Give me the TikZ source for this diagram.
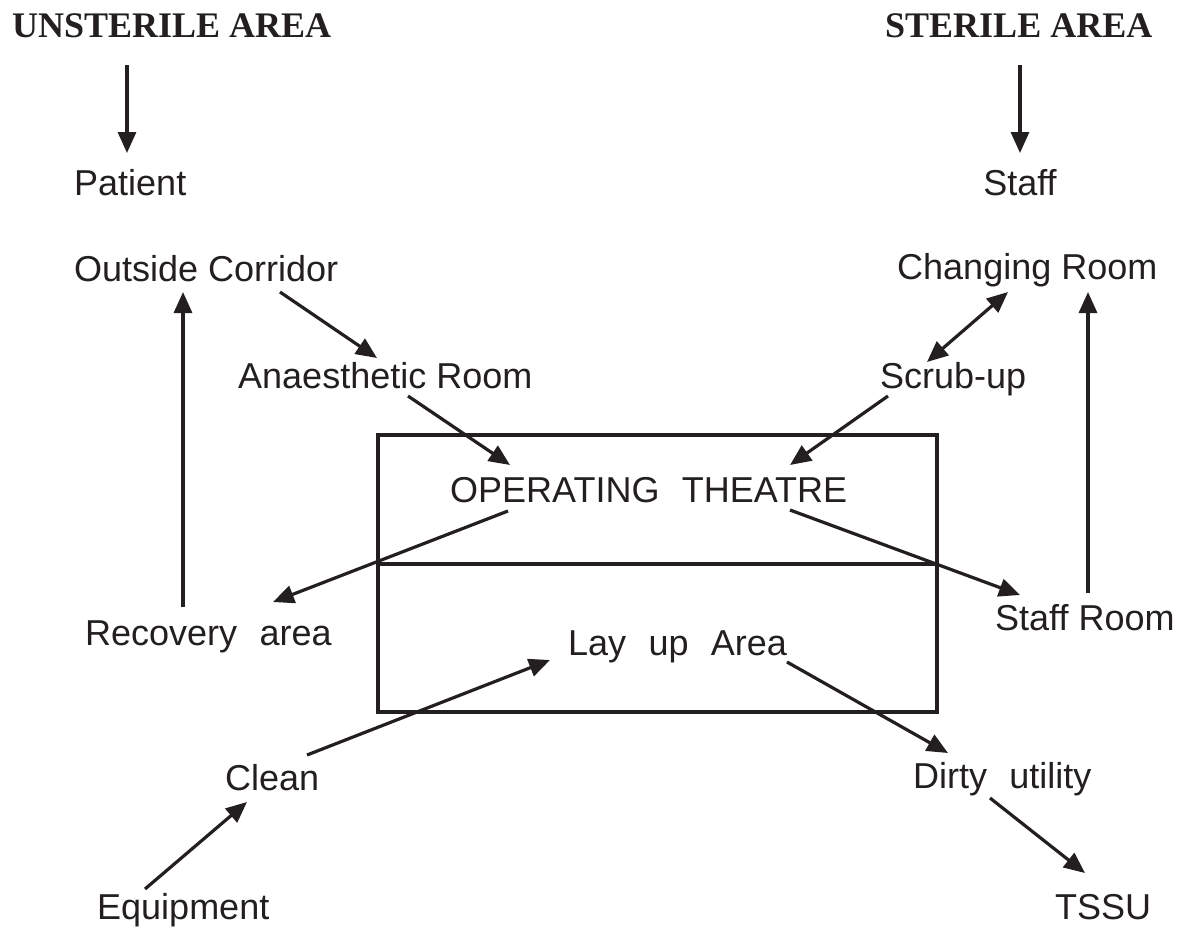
\documentclass[tikz,border=0pt]{standalone}
\usepackage{fontspec}
\setmainfont{Liberation Sans}
\newfontfamily\titlefont{Liberation Serif}
\usetikzlibrary{arrows.meta,calc}
\definecolor{ink}{RGB}{35,31,32}
\begin{document}
\begin{tikzpicture}[x=1pt,y=-1pt,
  lbl/.style={inner sep=0pt,anchor=base west,text=ink,font=\fontsize{36}{40}\selectfont},
  ttl/.style={inner sep=0pt,anchor=base west,text=ink,font=\titlefont\bfseries\fontsize{36}{40}\selectfont},
  arr/.style={draw=ink,line width=3.2pt,-{Triangle[length=21pt,width=18pt]}},
  darr/.style={draw=ink,line width=3.2pt,{Triangle[length=21pt,width=18pt]}-{Triangle[length=21pt,width=18pt]}},
  boxline/.style={draw=ink,line width=3.2pt}]
\useasboundingbox (0,0) rectangle (1181,929);
\def\sp{\hspace{0.62em}}
% titles
\node[ttl] (unt) at (12,37) {UNSTERILE AREA};
\node[ttl] (st) at (885,37) {STERILE AREA};
% labels
\node[lbl] (pat) at (74,195) {Patient};
\node[lbl,anchor=base] (staff) at (1020,195) {Staff};
\node[lbl] (oc) at (74,281) {Outside Corridor};
\node[lbl] (cr) at (897,279) {Changing Room};
\node[lbl] (an) at (238,388) {Anaesthetic Room};
\node[lbl] (su) at (880,388) {Scrub-up};
\node[lbl] (ot) at (450,502) {OPERATING\sp THEATRE};
\node[lbl] (rec) at (85,645) {Recovery\sp area};
\node[lbl] (sr) at (995,630) {Staff Room};
\node[lbl] (lay) at (568,655) {Lay\sp up\sp Area};
\node[lbl] (cl) at (225,790) {Clean};
\node[lbl] (du) at (913,788) {Dirty\sp utility};
\node[lbl] (eq) at (97,919) {Equipment};
\node[lbl] (ts) at (1055,919) {TSSU};
% theatre box
\draw[boxline] (378,435) rectangle (937,712);
\draw[boxline] (378,564) -- (937,564);
% connectors
\draw[arr] ($(unt.base west)+(115,28)$) -- ($(pat.base west)+(53,-42)$);
\draw[arr] ($(st.base west)+(135,28)$) -- ($(staff.base)+(0,-42)$);
\draw[arr] ($(oc.base west)+(206,11)$) -- ($(an.base west)+(139,-30)$);
\draw[darr] ($(cr.base west)+(111,13)$) -- ($(su.base west)+(47,-26)$);
\draw[arr] ($(an.base west)+(170,8)$) -- ($(ot.base west)+(60,-37)$);
\draw[arr] ($(su.base west)+(8,8)$) -- ($(ot.base west)+(340,-37)$);
\draw[arr] ($(ot.base west)+(58,9)$) -- ($(rec.base west)+(188,-43)$);
\draw[arr] ($(ot.base west)+(340,8)$) -- ($(sr.base west)+(25,-35)$);
\draw[arr] ($(rec.base west)+(98,-38)$) -- ($(oc.base west)+(109,11)$);
\draw[arr] ($(sr.base west)+(93,-37)$) -- ($(cr.base west)+(191,13)$);
\draw[arr] ($(cl.base west)+(82,-35)$) -- ($(lay.base west)+(-18,5)$);
\draw[arr] ($(lay.base west)+(219,7)$) -- ($(du.base west)+(35,-35)$);
\draw[arr] ($(eq.base west)+(48,-30)$) -- ($(cl.base west)+(22,12)$);
\draw[arr] ($(du.base west)+(77,10)$) -- ($(ts.base west)+(30,-46)$);
\end{tikzpicture}
\end{document}
